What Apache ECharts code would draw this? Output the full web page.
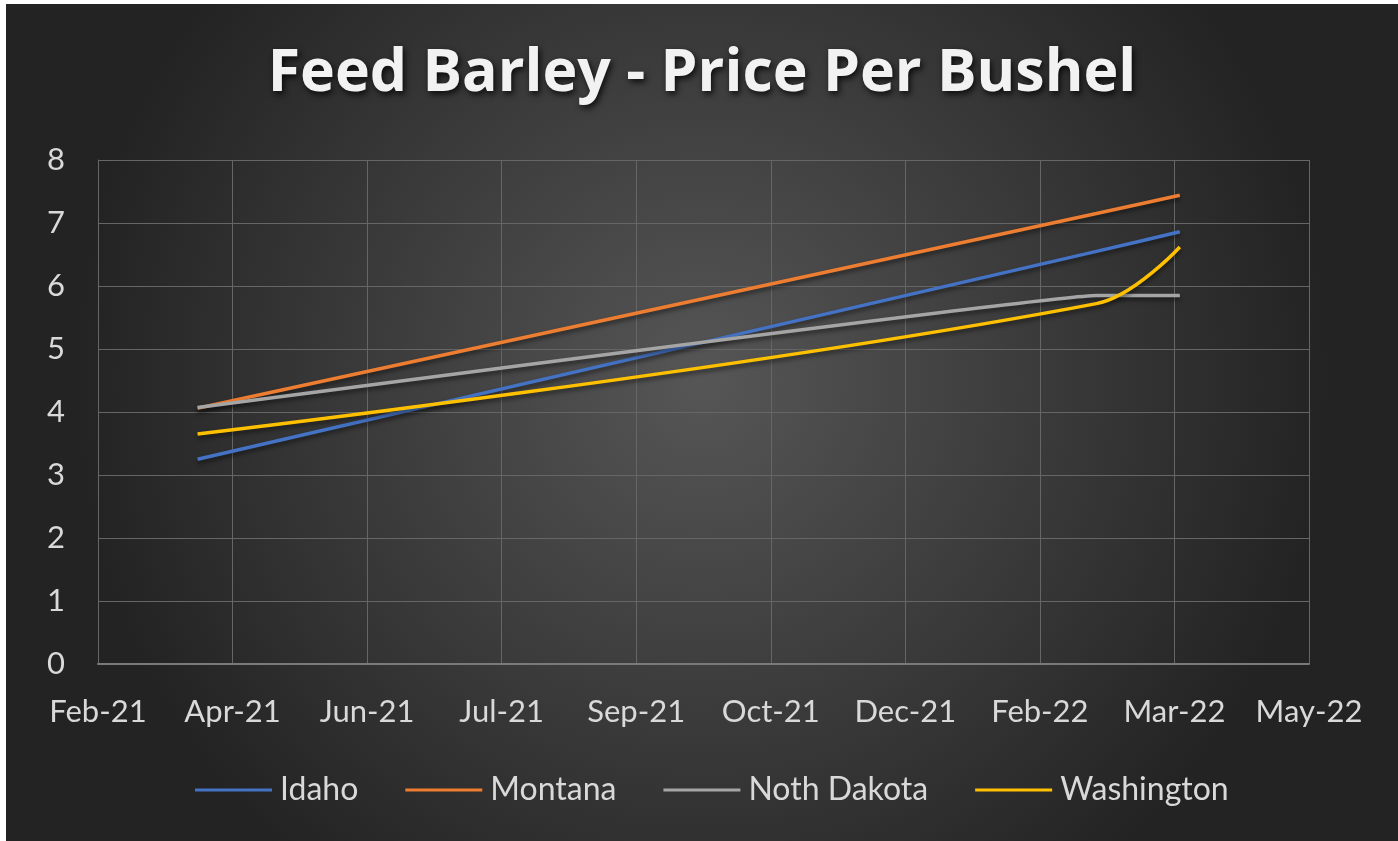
<!DOCTYPE html>
<html>
<head>
<meta charset="utf-8">
<script src="https://cdn.jsdelivr.net/npm/echarts@6/dist/echarts.min.js"></script>
<style>
  html, body { margin: 0; padding: 0; background: #ffffff; }
  #chart { position: absolute; left: 6px; top: 4px; width: 1392px; height: 837px; }
</style>
</head>
<body>
<div id="chart"></div>
<script>
// ---- data ----
const dates = ['2021-04-01', '2022-03-01', '2022-04-01'];
const seriesNames = ['Idaho', 'Montana', 'Noth Dakota', 'Washington'];
const idaho = [3.25, 6.55, 6.86];
const montana = [4.06, 7.15, 7.44];
const northDakota = [4.07, 5.85, 5.85];
const washington = [3.65, 5.72, 6.62];
const colors = ['#4472C4', '#ED7D31', '#A5A5A5', '#FFC000'];
const smoothing = [0.1, 0.1, 0.05, 0.38];
// x axis: Excel-style date serials, axis from Feb-23-2021 by 50 days
const xMin = 44250, xMax = 44700, xInterval = 50;
const yTicks = [0, 1, 2, 3, 4, 5, 6, 7, 8];

const MONTHS = ['Jan','Feb','Mar','Apr','May','Jun','Jul','Aug','Sep','Oct','Nov','Dec'];
const EPOCH = Date.UTC(1899, 11, 30);
function toSerial(s) {
  const p = s.split('-').map(Number);
  return Math.round((Date.UTC(p[0], p[1] - 1, p[2]) - EPOCH) / 86400000);
}
function serialLabel(v) {
  const d = new Date(EPOCH + v * 86400000);
  return MONTHS[d.getUTCMonth()] + '-' + String(d.getUTCFullYear()).slice(2);
}
const xs = dates.map(toSerial);
const allValues = [idaho, montana, northDakota, washington];

const chart = echarts.init(document.getElementById('chart'));
const labelFont = 'Lato';
chart.setOption({
  backgroundColor: {
    type: 'radial', x: 0.5, y: 0.45, r: 0.75,
    colorStops: [
      { offset: 0, color: '#565656' },
      { offset: 1, color: '#232323' }
    ]
  },
  title: {
    text: 'Feed Barley - Price Per Bushel',
    left: 'center',
    top: 36,
    textStyle: {
      color: '#f2f2f2',
      fontFamily: 'Open Sans',
      fontWeight: 'bold',
      fontSize: 59,
      textShadowColor: 'rgba(0,0,0,0.8)',
      textShadowBlur: 6,
      textShadowOffsetX: 2,
      textShadowOffsetY: 3
    }
  },
  grid: { left: 92, right: 89, top: 156, bottom: 177, containLabel: false },
  legend: {
    top: 765,
    left: 184,
    itemWidth: 77,
    itemHeight: 14,
    itemGap: 47,
    icon: 'path://M0,6 L77,6 L77,9 L0,9 Z',
    textStyle: { color: '#d9d9d9', fontSize: 32, fontFamily: labelFont, padding: [0, 0, 0, 3] },
    data: seriesNames
  },
  xAxis: {
    type: 'value',
    min: xMin, max: xMax, interval: xInterval,
    axisLine: { show: true, lineStyle: { color: '#7a7a7a', width: 2 } },
    axisTick: { show: false },
    splitLine: { show: true, lineStyle: { color: '#666666', width: 1 } },
    axisLabel: {
      color: '#d9d9d9', fontSize: 31, fontFamily: labelFont, margin: 32,
      formatter: serialLabel
    }
  },
  yAxis: {
    type: 'value',
    min: yTicks[0], max: yTicks[yTicks.length - 1], interval: 1,
    axisLine: { show: true, lineStyle: { color: '#666666', width: 1 } },
    axisTick: { show: false },
    splitLine: { show: true, lineStyle: { color: '#666666', width: 1 } },
    axisLabel: { color: '#d9d9d9', fontSize: 31, fontFamily: labelFont, margin: 33 }
  },
  series: seriesNames.map((name, i) => ({
    name: name,
    type: 'line',
    smooth: smoothing[i],
    symbol: 'none',
    color: colors[i],
    lineStyle: {
      width: 3.5, color: colors[i],
      shadowColor: 'rgba(0,0,0,0.5)', shadowBlur: 4, shadowOffsetY: 3
    },
    data: xs.map((x, j) => [x, allValues[i][j]])
  }))
});
</script>
</body>
</html>
